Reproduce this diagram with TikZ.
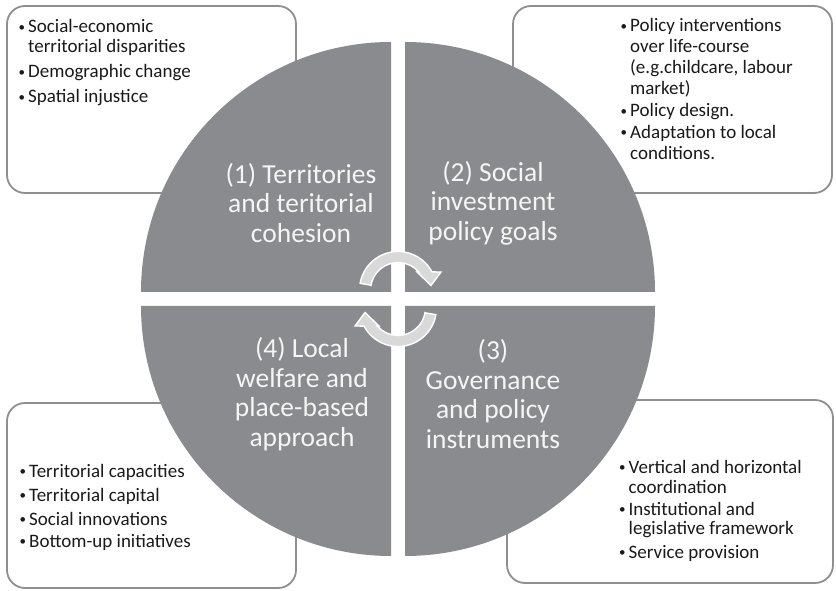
\documentclass[tikz,border=0pt]{standalone}
\usepackage{fontspec}
\setmainfont{Carlito}
\definecolor{quadgray}{HTML}{8A8B8E}
\definecolor{boxline}{HTML}{8F8F8F}
\definecolor{arrowfill}{HTML}{D9D9D9}
\definecolor{quadtext}{HTML}{F5F5F5}
\definecolor{listtext}{HTML}{1A1A1A}
\newcommand{\bul}{\llap{\raisebox{1.6pt}{\fontsize{13}{13}\selectfont •}\hspace{3pt}}}
\begin{document}
\begin{tikzpicture}[x=1pt,y=1pt,
  infobox/.style={draw=boxline, line width=1.8pt, fill=white, rounded corners=18pt},
  quadrant/.style={fill=quadgray},
  qlabel/.style={text=quadtext, align=center, font=\fontsize{27.5}{29.5}\selectfont, inner sep=0pt},
  li/.style={anchor=base west, inner sep=0pt, text=listtext, font=\fontsize{19}{21}\selectfont},
  cyclearrow/.style={fill=arrowfill, draw=white, line width=1.4pt, line join=miter}]
\useasboundingbox (0,0) rectangle (836,590);
% info boxes
\draw[infobox] (7,397) rectangle (296,584);
\draw[infobox] (513,397) rectangle (832,584);
\draw[infobox] (7,2) rectangle (296,187);
\draw[infobox] (507,7) rectangle (833,190);
% top-left list
\node[li] (tl1) at (28,557) {\bul Social-economic};
\node[li] (tl2) at (28,537) {territorial disparities};
\node[li] (tl3) at (28,512) {\bul Demographic change};
\node[li] (tl4) at (28,487) {\bul Spatial injustice};
% top-right list
\node[li] (tr1) at (630,558) {\bul Policy interventions};
\node[li] (tr2) at (630,537) {over life-course};
\node[li] (tr3) at (630,516) {(e.g.childcare, labour};
\node[li] (tr4) at (630,495.5) {market)};
\node[li] (tr5) at (630,473) {\bul Policy design.};
\node[li] (tr6) at (630,451.5) {\bul Adaptation to local};
\node[li] (tr7) at (630,430.5) {conditions.};
% bottom-left list
\node[li] (bl1) at (29,112.7) {\bul Territorial capacities};
\node[li] (bl2) at (29,89) {\bul Territorial capital};
\node[li] (bl3) at (29,65) {\bul Social innovations};
\node[li] (bl4) at (29,42.7) {\bul Bottom-up initiatives};
% bottom-right list
\node[li] (br1) at (628.5,116.7) {\bul Vertical and horizontal};
\node[li] (br2) at (628.5,96.7) {coordination};
\node[li] (br3) at (628.5,75) {\bul Institutional and};
\node[li] (br4) at (628.5,56) {legislative framework};
\node[li] (br5) at (628.5,31.7) {\bul Service provision};
% quadrants
\fill[quadrant] (391,298) -- (141,298) arc[start angle=180, end angle=90, radius=250] -- cycle;
\fill[quadrant] (405,298) -- (405,548) arc[start angle=90, end angle=0, radius=250] -- cycle;
\fill[quadrant] (391,284) -- (391,34) arc[start angle=270, end angle=180, radius=250] -- cycle;
\fill[quadrant] (405,284) -- (655,284) arc[start angle=0, end angle=-90, radius=250] -- cycle;
% quadrant labels
\node[qlabel] (q1) at (301,387) {(1) Territories\\and teritorial\\cohesion};
\node[qlabel] (q2) at (493,387) {(2) Social\\investment\\policy goals};
\node[qlabel] (q4) at (302,196) {(4) Local\\welfare and\\place-based\\approach};
\node[qlabel] (q3) at (493,196) {(3)\\Governance\\and policy\\instruments};
% circular arrows
\draw[cyclearrow] (370.9,304.8) -- (360.1,306.7) arc[start angle=170, end angle=28, radius=38.5]
  -- (441,318) -- (431,304.5) -- (417,318) -- (418.8,318) arc[start angle=41, end angle=170, radius=27.5] -- cycle;
\begin{scope}[rotate around={180:(398,291)}]
\draw[cyclearrow] (370.9,304.8) -- (360.1,306.7) arc[start angle=170, end angle=28, radius=38.5]
  -- (441,318) -- (431,304.5) -- (417,318) -- (418.8,318) arc[start angle=41, end angle=170, radius=27.5] -- cycle;
\end{scope}
\end{tikzpicture}
\end{document}
